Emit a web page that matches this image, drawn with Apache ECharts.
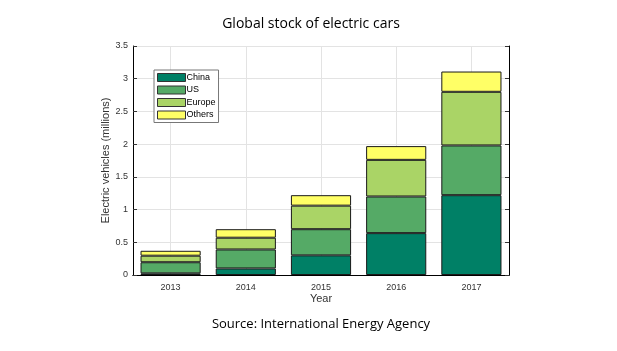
<!DOCTYPE html>
<html>
<head>
<meta charset="utf-8">
<script src="https://cdn.jsdelivr.net/npm/echarts@6/dist/echarts.min.js"></script>
<style>
  html, body { margin: 0; padding: 0; background: #fff; }
  #chart { width: 617px; height: 351px; }
</style>
</head>
<body>
<div id="chart"></div>
<script>
// data (millions of cars)
var years = ['2013', '2014', '2015', '2016', '2017'];
var china = [0.025, 0.10, 0.30, 0.64, 1.22];
var us = [0.17, 0.29, 0.40, 0.56, 0.76];
var europe = [0.10, 0.18, 0.36, 0.56, 0.82];
var others = [0.075, 0.13, 0.16, 0.21, 0.31];
var yTicks = { min: 0, max: 3.5, interval: 0.5 };

var myChart = echarts.init(document.getElementById('chart'));

// summer colormap
var colors = ['#008066', '#55aa66', '#aad466', '#ffff66'];

function barSeries(name, data, i) {
  return {
    name: name,
    type: 'bar',
    stack: 'total',
    data: data,
    barWidth: '80%',
    itemStyle: { color: colors[i], borderColor: '#1a1a1a', borderWidth: 1 }
  };
}

var axisFont = { fontFamily: 'Liberation Sans', fontSize: 9, color: '#333' };

var option = {
  backgroundColor: '#fff',
  animation: false,
  title: [{
    text: 'Global stock of electric cars',
    left: 306, top: 12, textAlign: 'center',
    textStyle: { fontFamily: 'Open Sans', fontSize: 14, fontWeight: 'normal', color: '#000' }
  }, {
    text: 'Source: International Energy Agency',
    left: 316, top: 313, textAlign: 'center',
    textStyle: { fontFamily: 'Open Sans', fontSize: 13, fontWeight: 'normal', color: '#000' }
  }],
  legend: {
    orient: 'vertical',
    left: 154, top: 70,
    itemWidth: 28, itemHeight: 8, itemGap: 3.5,
    padding: [3, 3, 3, 3],
    borderColor: '#777', borderWidth: 1,
    backgroundColor: '#fff',
    icon: 'rect',
    itemStyle: { borderWidth: 1, borderColor: '#333' },
    textStyle: { fontFamily: 'Liberation Sans', fontSize: 9, lineHeight: 8, color: '#000', padding: [0, 0, 0, -4] },
    data: ['China', 'US', 'Europe', 'Others']
  },
  grid: { left: 133, right: 108, top: 46, bottom: 76 },
  xAxis: [{
    type: 'category',
    data: years,
    name: 'Year',
    nameLocation: 'middle',
    nameGap: 18,
    nameMoveOverlap: false,
    nameTextStyle: { fontFamily: 'Liberation Sans', fontSize: 11, color: '#333' },
    axisLine: { lineStyle: { color: '#000' } },
    axisTick: { inside: true, alignWithLabel: true, length: 4, lineStyle: { color: '#333' } },
    axisLabel: Object.assign({ margin: 8 }, axisFont),
    splitLine: { show: true, alignWithLabel: true, lineStyle: { color: '#e3e3e3' } }
  }, {
    type: 'category',
    data: years,
    position: 'top',
    axisLine: { lineStyle: { color: '#000' } },
    axisTick: { inside: true, alignWithLabel: true, length: 4, lineStyle: { color: '#333' } },
    axisLabel: { show: false }
  }],
  yAxis: [{
    type: 'value',
    min: yTicks.min, max: yTicks.max, interval: yTicks.interval,
    name: 'Electric vehicles (millions)',
    nameLocation: 'middle',
    nameGap: 22,
    nameMoveOverlap: false,
    nameTextStyle: { fontFamily: 'Liberation Sans', fontSize: 11, color: '#333' },
    axisLine: { show: true, lineStyle: { color: '#000' } },
    axisTick: { show: true, inside: true, length: 4, lineStyle: { color: '#333' } },
    axisLabel: Object.assign({ margin: 5 }, axisFont),
    splitLine: { show: true, lineStyle: { color: '#e3e3e3' } }
  }, {
    type: 'value',
    position: 'right',
    min: yTicks.min, max: yTicks.max, interval: yTicks.interval,
    axisLine: { show: true, lineStyle: { color: '#000' } },
    axisTick: { show: true, inside: true, length: 4, lineStyle: { color: '#333' } },
    axisLabel: { show: false },
    splitLine: { show: false }
  }],
  series: [
    barSeries('China', china, 0),
    barSeries('US', us, 1),
    barSeries('Europe', europe, 2),
    barSeries('Others', others, 3)
  ]
};

myChart.setOption(option);
</script>
</body>
</html>
